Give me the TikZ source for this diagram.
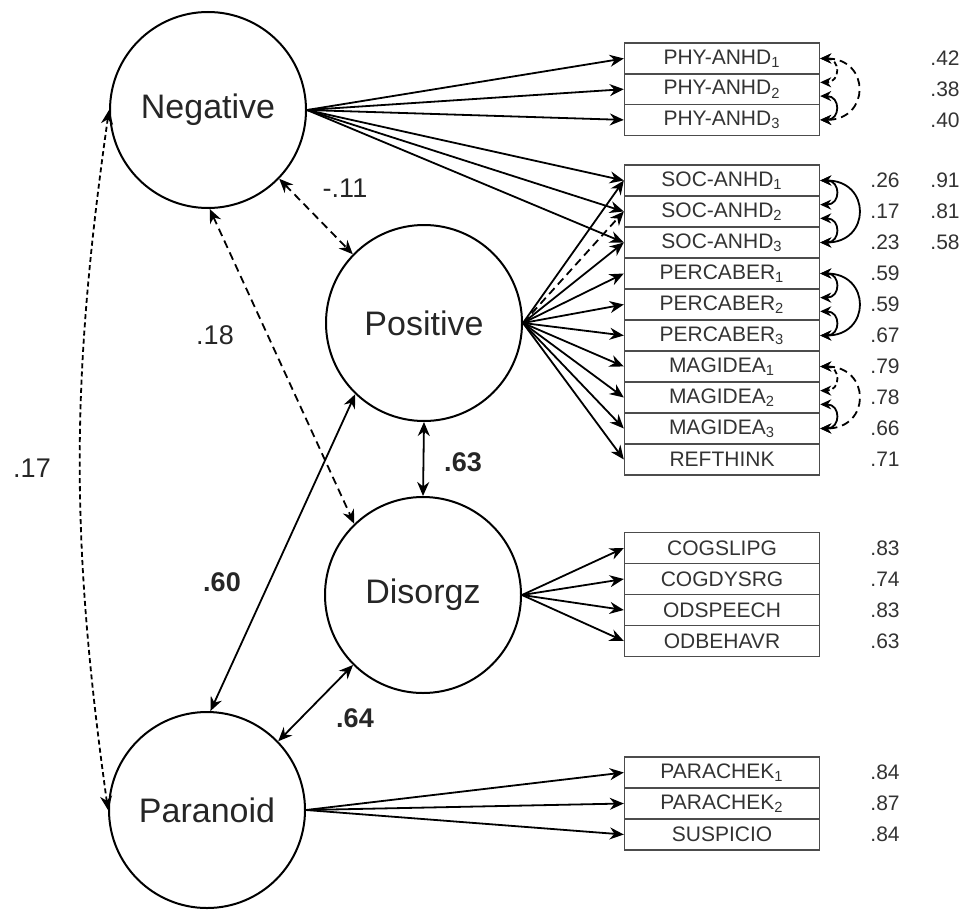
\documentclass[tikz,border=0pt]{standalone}
\usepackage{fontspec}
\setmainfont{Liberation Sans}
\usepackage{tikz}
\usetikzlibrary{calc}
\usetikzlibrary{shapes}
\usetikzlibrary{arrows.meta}
\newcommand{\obsbox}[3]{\node[obs] (#1) at (722, #2) {#3};}
\newcommand{\lnum}[4]{\node[num] (#1) at (#2, #3) {#4};}
\newcommand{\covarcs}[6]{\draw[covsmall, #4] (#1.east) to[out=0, in=0, looseness=2.2] (#2.4); \draw[covsmall, #5] (#2.-4) to[out=0, in=0, looseness=2.2] (#3.east); \draw[covsmall, #6] (#1.east) to[out=0, in=0, looseness=2.1] (#3.east);}
\tikzset{
        latent/.style={circle, draw, line width=1pt, minimum size=98pt, inner sep=0pt, font=\fontsize{17}{20}\selectfont, text=black!85},
        obs/.style={rectangle, draw=black!70, line width=0.7pt, minimum width=97.5pt, minimum height=15.5pt, inner sep=0pt, font=\fontsize{10.5}{12}\selectfont, text=black!80},
        num/.style={font=\fontsize{10.5}{12}\selectfont, text=black!80, inner sep=0pt},
        corlab/.style={font=\fontsize{13.5}{15}\selectfont, text=black!85, inner sep=0pt},
        load/.style={-{Stealth[length=7pt, width=6pt]}, line width=0.9pt},
        cov/.style={{Stealth[length=7pt, width=6pt]}-{Stealth[length=7pt, width=6pt]}, line width=0.9pt},
        covsmall/.style={{Stealth[length=5.5pt, width=5pt]}-{Stealth[length=5.5pt, width=5pt]}, line width=0.9pt},
        longdash/.style={dash pattern=on 4pt off 2.5pt},
        shortdash/.style={dash pattern=on 2.5pt off 1.6pt}
}

\begin{document}
\begin{tikzpicture}[x=0.5pt, y=-0.5pt]
        \useasboundingbox (0,0) rectangle (961,909);

        \node[latent] (neg) at (208,110) {Negative};
        \node[latent] (pos) at (424,323) {Positive};
        \node[latent] (dis) at (423,595) {Disorgz};
        \node[latent] (par) at (207,810) {Paranoid};

        \obsbox{phy1}{58.5}{PHY-ANHD\textsubscript{1}}
        \obsbox{phy2}{89.2}{PHY-ANHD\textsubscript{2}}
        \obsbox{phy3}{119.9}{PHY-ANHD\textsubscript{3}}
        \obsbox{soc1}{180.5}{SOC-ANHD\textsubscript{1}}
        \obsbox{soc2}{211.5}{SOC-ANHD\textsubscript{2}}
        \obsbox{soc3}{242.5}{SOC-ANHD\textsubscript{3}}
        \obsbox{per1}{273.5}{PERCABER\textsubscript{1}}
        \obsbox{per2}{304.5}{PERCABER\textsubscript{2}}
        \obsbox{per3}{335.5}{PERCABER\textsubscript{3}}
        \obsbox{mag1}{366.5}{MAGIDEA\textsubscript{1}}
        \obsbox{mag2}{397.5}{MAGIDEA\textsubscript{2}}
        \obsbox{mag3}{428.5}{MAGIDEA\textsubscript{3}}
        \obsbox{ref}{459.5}{REFTHINK}
        \obsbox{cogs}{548}{COGSLIPG}
        \obsbox{cogd}{579}{COGDYSRG}
        \obsbox{odsp}{610}{ODSPEECH}
        \obsbox{odbe}{641}{ODBEHAVR}
        \obsbox{pch1}{772.5}{PARACHEK\textsubscript{1}}
        \obsbox{pch2}{803.5}{PARACHEK\textsubscript{2}}
        \obsbox{susp}{834.5}{SUSPICIO}

        \lnum{nphy1}{945}{58.5}{.42}
        \lnum{nphy2}{945}{89.2}{.38}
        \lnum{nphy3}{945}{119.9}{.40}
        \lnum{nsoc1a}{885}{180.5}{.26}
        \lnum{nsoc2a}{885}{211.5}{.17}
        \lnum{nsoc3a}{885}{242.5}{.23}
        \lnum{nsoc1b}{945}{180.5}{.91}
        \lnum{nsoc2b}{945}{211.5}{.81}
        \lnum{nsoc3b}{945}{242.5}{.58}
        \lnum{nper1}{885}{273.5}{.59}
        \lnum{nper2}{885}{304.5}{.59}
        \lnum{nper3}{885}{335.5}{.67}
        \lnum{nmag1}{885}{366.5}{.79}
        \lnum{nmag2}{885}{397.5}{.78}
        \lnum{nmag3}{885}{428.5}{.66}
        \lnum{nref}{885}{459.5}{.71}
        \lnum{ncogs}{885}{548}{.83}
        \lnum{ncogd}{885}{579}{.74}
        \lnum{nodsp}{885}{610}{.83}
        \lnum{nodbe}{885}{641}{.63}
        \lnum{npch1}{885}{772.5}{.84}
        \lnum{npch2}{885}{803.5}{.87}
        \lnum{nsusp}{885}{834.5}{.84}

        \draw[load] (neg.east) -- (phy1.west);
        \draw[load] (neg.east) -- (phy2.west);
        \draw[load] (neg.east) -- (phy3.west);
        \draw[load] (neg.east) -- (soc1.west);
        \draw[load] (neg.east) -- (soc2.west);
        \draw[load] (neg.east) -- (soc3.west);

        \draw[load] (pos.east) -- (soc1.west);
        \draw[load, longdash] (pos.east) -- (soc2.west);
        \draw[load] (pos.east) -- (soc3.west);
        \draw[load] (pos.east) -- (per1.west);
        \draw[load] (pos.east) -- (per2.west);
        \draw[load] (pos.east) -- (per3.west);
        \draw[load] (pos.east) -- (mag1.west);
        \draw[load] (pos.east) -- (mag2.west);
        \draw[load] (pos.east) -- (mag3.west);
        \draw[load] (pos.east) -- (ref.west);

        \draw[load] (dis.east) -- (cogs.west);
        \draw[load] (dis.east) -- (cogd.west);
        \draw[load] (dis.east) -- (odsp.west);
        \draw[load] (dis.east) -- (odbe.west);

        \draw[load] (par.east) -- (pch1.west);
        \draw[load] (par.east) -- (pch2.west);
        \draw[load] (par.east) -- (susp.west);

        \covarcs{phy1}{phy2}{phy3}{shortdash}{}{longdash}
        \covarcs{soc1}{soc2}{soc3}{}{}{}
        \covarcs{per1}{per2}{per3}{}{}{}
        \covarcs{mag1}{mag2}{mag3}{shortdash}{}{longdash}

        \draw[cov, longdash] (neg.-44) -- (pos.136);
        \draw[cov, longdash] (neg.-89) -- (dis.134);
        \draw[cov, shortdash] (neg.west) to[bend right=8] (par.west);
        \draw[cov] (pos.-90) -- (dis.90);
        \draw[cov] (pos.-134) -- (par.88);
        \draw[cov] (dis.-135) -- (par.44);

        \node[corlab] (c11) at (345,188) {-.11};
        \node[corlab] (c18) at (215,335) {.18};
        \node[corlab] (c17) at (32,468) {.17};
        \node[corlab] (c60) at (222,582) {\textbf{.60}};
        \node[corlab] (c63) at (463,462) {\textbf{.63}};
        \node[corlab] (c64) at (355,718) {\textbf{.64}};
\end{tikzpicture}
\end{document}
